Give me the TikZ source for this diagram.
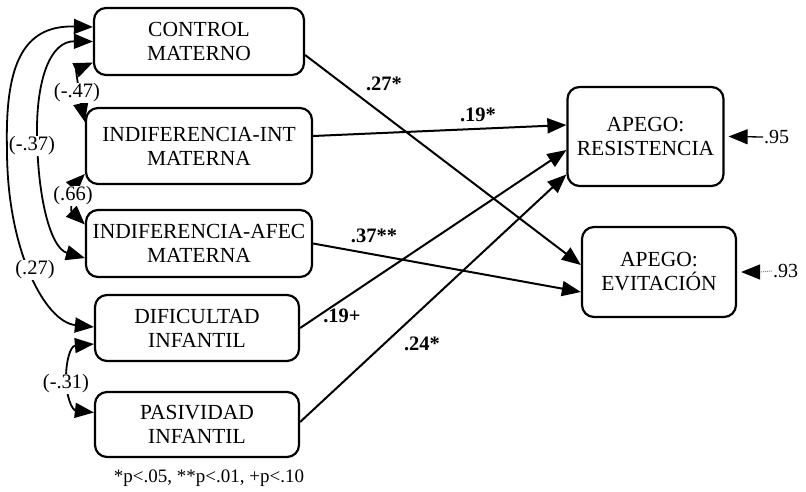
\documentclass[tikz,border=0pt]{standalone}
\usepackage{fontspec}
\setmainfont{Liberation Serif}
\usetikzlibrary{arrows.meta}
\begin{document}
\begin{tikzpicture}[x=1pt,y=-1pt,
  box/.style={draw, line width=2.2pt, rounded corners=12pt, align=center, inner sep=0pt, font=\fontsize{21.5}{24}\selectfont},
  conn/.style={line width=2pt, -{Triangle[length=19pt,width=15pt]}},
  corr/.style={line width=1.8pt, {Triangle[length=19pt,width=15pt]}-{Triangle[length=19pt,width=15pt]}},
  coef/.style={font=\fontsize{20.5}{24}\selectfont\bfseries, inner sep=1pt},
  rlab/.style={font=\fontsize{20.5}{24}\selectfont, fill=white, inner sep=1pt},
  elab/.style={font=\fontsize{20}{22}\selectfont, inner sep=1pt}]
\useasboundingbox (0,0) rectangle (806,492);

% boxes
\node[box, minimum width=210pt, minimum height=67pt] (ctrl) at (199,41.5) {CONTROL\\MATERNO};
\node[box, minimum width=226pt, minimum height=76pt] (int) at (199,146) {INDIFERENCIA-INT\\MATERNA};
\node[box, minimum width=226pt, minimum height=67pt] (afec) at (199,243.5) {INDIFERENCIA-AFEC\\MATERNA};
\node[box, minimum width=204pt, minimum height=66pt] (dif) at (197,328) {DIFICULTAD\\INFANTIL};
\node[box, minimum width=204pt, minimum height=65pt] (pas) at (197,424.5) {PASIVIDAD\\INFANTIL};
\node[box, minimum width=156pt, minimum height=99pt] (res) at (645.5,136.5) {APEGO:\\RESISTENCIA};
\node[box, minimum width=154pt, minimum height=90pt] (evi) at (659,272) {APEGO:\\EVITACIÓN};

% paths
\draw[conn] ([yshift=-13.5pt]ctrl.east) -- ([yshift=7pt]evi.west);
\draw[conn] ([yshift=10pt]int.east) -- ([yshift=11.5pt]res.west);
\draw[conn] (afec.east) -- ([yshift=-20pt]evi.west);
\draw[conn] (dif.east) -- ([yshift=-13.5pt]res.west);
\draw[conn] ([yshift=2.5pt]pas.east) -- ([yshift=-38pt]res.west);

% correlations
\draw[corr] ([yshift=14.5pt]ctrl.west) .. controls (20,25) and (5,70) .. (7,150)
  .. controls (7,250) and (45,322) .. ([yshift=1pt]dif.west);
\draw[corr] (ctrl.west) .. controls (50,41) and (37,80) .. (37,130)
  .. controls (37,195) and (50,248) .. ([yshift=-14.5pt]afec.west);
\draw[corr] ([yshift=-21pt]ctrl.west) .. controls (76,70) and (80,100) .. ([yshift=24pt]int.west);
\draw[corr] ([yshift=-28pt]int.west) .. controls (74,185) and (70,210) .. ([yshift=19pt]afec.west);
\draw[corr] ([yshift=-16pt]dif.west) .. controls (70,346) and (66,362) .. (66,378)
  .. controls (66,396) and (72,410) .. ([yshift=12pt]pas.west);

% correlation labels
\node[rlab] (l27) at (35,270) {(.27)};
\node[rlab] (l37) at (32,146) {(-.37)};
\node[rlab] (l47) at (77,93) {(-.47)};
\node[rlab] (l66) at (73,196) {(.66)};
\node[rlab] (l31) at (66,384) {(-.31)};

% coefficients
\node[coef] (c27) at (384,84) {.27*};
\node[coef] (c19a) at (478,115) {.19*};
\node[coef] (c37) at (374,236) {.37**};
\node[coef] (c19b) at (342,316) {.19+};
\node[coef] (c24) at (422,344) {.24*};

% residuals
\node[elab, anchor=west] (r95) at (763,137) {.95};
\draw[conn, line width=1.3pt] (r95.west) -- ([xshift=4pt]res.east);
\node[elab, anchor=west] (r93) at (772,271) {.93};
\coordinate (a93) at ([xshift=22pt]evi.east);
\draw[gray, densely dotted, line width=1pt] (r93.west) -- (a93);
\draw[conn, line width=1.3pt] (a93) -- ([xshift=4pt]evi.east);

% footnote
\node[font=\fontsize{19}{22}\selectfont] (note) at (209,478) {*p<.05, **p<.01, +p<.10};
\end{tikzpicture}
\end{document}
